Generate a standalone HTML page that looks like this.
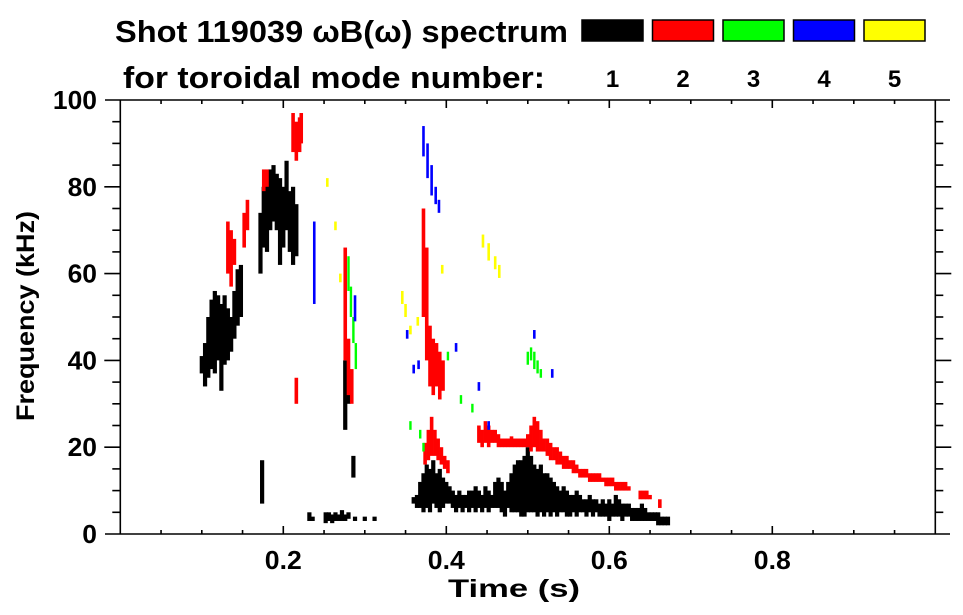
<!DOCTYPE html>
<html><head><meta charset="utf-8"><style>
body{margin:0;background:#fff;}
svg{display:block;font-family:"Liberation Sans",sans-serif;font-weight:bold;}
</style></head><body>
<svg id="chart" width="963" height="615" viewBox="0 0 963 615">
<g>
<text x="115" y="42" font-size="31" textLength="453" lengthAdjust="spacingAndGlyphs">Shot 119039 ωB(ω) spectrum</text>
<text x="123" y="88" font-size="31" textLength="422" lengthAdjust="spacingAndGlyphs">for toroidal mode number:</text>
</g>
<g id="legend"></g>
<g id="plot"></g>
<g id="axes"></g>
<text x="514" y="597" font-size="25" text-anchor="middle" textLength="132" lengthAdjust="spacingAndGlyphs">Time (s)</text>
<text transform="translate(34,316) rotate(-90)" font-size="25" text-anchor="middle" textLength="210" lengthAdjust="spacingAndGlyphs">Frequency (kHz)</text>
</svg>
<script>
const modeLabels = ["1","2","3","4","5"];
const modeColors = ["#000000","#ff0000","#00ff00","#0000ff","#ffff00"];
const xTicks = [0.2,0.4,0.6,0.8];
const yTicks = [0,20,40,60,80,100];

// mode 1 (black): time (s), low freq, high freq (kHz)
const m1T = [.100,.104,.108,.112,.116,.120,.124,.128,.132,.136,.140,.144,.148,
 .172,.176,.180,.184,.188,.192,.196,.200,.204,.208,.212,.216,.174,
 .232,.236,.252,.256,.260,.264,.268,.272,.276,.280,.288,.300,.312,
 .276,.280,.286,
 .360,.364,.368,.372,.376,.380,.384,.388,.392,.396,.400,.404,.408,.412,.416,.420,.424,.428,.432,.436,.440,.444,.448,.452,.456,.460,.464,.468,.472,.476,.480,.484,.488,.492,.496,.500,.504,.508,.512,.516,.520,.524,.528,.532,.536,.540,.544,.548,.552,.556,.560,.564,.568,.572,.576,.580,.584,.588,.592,.596,.600,.604,.608,.612,.616,.620,.624,.628,.632,.636,.640,.644,.648,.652,.656,.660,.664,.668,.672];
const m1Lo = [37,34,36,38,37,40,33,39,40,42,45,48,50,
 60,66,65,70,72,70,62,66,70,65,62,64,7,
 3,3,2.5,3,2.5,3,3,3,3,3.5,3,3,3,
 24,30,13,
 7,6,6,5,6,5,7,6,5,6,7,7,6,5,6,5,6,5,6,5,6,5,6,5,6,6,6,5,4,6,5,5,5,4,4,5,5,5,4,5,4,5,4,5,4,5,5,4,4,5,4,5,5,4,5,4,5,4,4,4,3,4,4,4,3,4,4,3,3,3,3,3,3,3,3,2,2,2,2];
const m1Hi = [41,44,50,54,56,55,53,55,52,50,56,61,62,
 74,80,82,84,85,83,82,80,86,79,80,76,17,
 5,4,5,5,4.5,5,4.5,5.5,4.5,5,4,4,4,
 40,37,18,
 8.5,9,12,14,16,15,17,14,15,13,12,11,10,9,10,9,9,10,10,11,10,9,11,10,9,12,13,12,10,12,14,16,17,17,18,20,18,16,15,16,14,14,13,12,11,10,11,10,9,9,10,9,8,8,9,8,8,7,8,7,8,7,9,8,7,7,7,6,6,6,7,6,5,5,5,5,4,4,4];

// mode 2 (red)
const m2T = [.132,.136,.140,.152,.156,.176,.180,.212,.216,.220,.222,.216,
 .276,.280,.284,
 .372,.376,.380,.384,.388,.392,.396,
 .374,.378,.382,.386,.390,.394,.398,.402,
 .440,.444,.448,.452,.456,.460,.464,.468,.472,.476,.480,.484,.488,.492,.496,.500,.504,.508,.512,.516,.520,.524,.528,.532,.536,.540,.544,.548,.552,.556,.560,.564,.568,.572,.576,.580,.584,.588,.592,.596,.600,.604,.608,.612,.616,.620,.624,.638,.642,.646,.650,.662];
const m2Lo = [60,57,62,66,70,79,80,88,86,88,90,30,
 40,32,30,
 50,40,34,32,34,31,33,
 16,17,18,18,17,16,15,14,
 21,20,21,20,21,21,20,20,20,20,20,20,20,20,20,20,19,20,19,19,19,18,17,17,16,16,15,15,15,14,14,13,13,13,12,12,12,12,12,11,11,11,10,10,10,10,10,8,8,8,8,6];
const m2Hi = [72,70,68,74,77,84,84,97,95,96,97,36,
 66,45,38,
 75,66,48,45,44,42,40,
 21,24,27,24,22,20,18,17,
 25,24,26,25,24,24,23,22,22,22,22.5,22,22,22,22,23,25,27,26,24,22,22,21,20,20,19,18,18,17,17,16,15,15,15,14,14,14,14,13,13,13,13,12,12,12,12,11,10,10,10,9,8];

// mode 3 (green)
const m3T = [.280,.283,.286,.289,.356,.368,.402,.418,.432,.500,.504,.508,.512,.516,.372];
const m3Lo = [56,50,44,38,24,22,40,30,28,39,40,38,37,36,19];
const m3Hi = [64,57,50,44,26,24,42,32,30,42,43,42,40,38,21];

// mode 4 (blue)
const m4T = [.238,.288,.372,.377,.382,.387,.391,.352,.360,.366,.412,.440,.452,.508,.530];
const m4Lo = [53,49,87,82,78,76,74,45,37,38,42,33,24,45,36];
const m4Hi = [72,55,94,90,85,80,77,47,39,40,44,35,26,47,38];

// mode 5 (yellow)
const m5T = [.445,.452,.460,.465,.346,.350,.356,.254,.264,.270,.395,.365];
const m5Lo = [66,63,61,59,53,50,46,80,70,58,60,48];
const m5Hi = [69,67,64,62,56,53,48,82,72,60,62,50];

const NS = "http://www.w3.org/2000/svg";
const X0 = 120.3, X1 = 935.3, Y0 = 534, Y1 = 100;
function xs(t){ return X0 + (t - 0) / (1.0 - 0) * (X1 - X0); }
function ys(f){ return Y0 - (f - 0) / (100 - 0) * (Y0 - Y1); }
function mk(tag, attrs, parent){ const e = document.createElementNS(NS, tag); for (const k in attrs) e.setAttribute(k, attrs[k]); parent.appendChild(e); return e; }

const legend = document.getElementById('legend');
for (let i = 0; i < modeLabels.length; i++) {
  const bx = 582 + i * 70.5;
  const r = mk('rect', {x: bx, y: 20, width: 61, height: 21, fill: modeColors[i], stroke: '#000', 'stroke-width': 1.5}, legend);
  
  
  const t = mk('text', {x: bx + 30.5, y: 87, 'font-size': 24, 'text-anchor': 'middle'}, legend);
  t.textContent = modeLabels[i];
  
  
}

const plot = document.getElementById('plot');
const series = [[m1T,m1Lo,m1Hi],[m2T,m2Lo,m2Hi],[m3T,m3Lo,m3Hi],[m4T,m4Lo,m4Hi],[m5T,m5Lo,m5Hi]];
const widths = [4.2, 3.6, 2.4, 2.6, 2.6];
series.forEach((s, si) => {
  const g = mk('g', {}, plot);
  
  
  for (let i = 0; i < s[0].length; i++) {
    const x = xs(s[0][i]), y1 = ys(s[2][i]), y2 = ys(s[1][i]);
    const r = mk('rect', {x: x - widths[si]/2, y: y1, width: widths[si], height: Math.max(1, y2 - y1), fill: modeColors[si]}, g);
    
    
  }
});

const axes = document.getElementById('axes');
const st = {stroke: '#000', 'stroke-width': 1.6, fill: 'none'};
mk('line', Object.assign({x1: 105, y1: Y0, x2: 950, y2: Y0}, st), axes);
mk('line', Object.assign({x1: 105, y1: Y1, x2: 950, y2: Y1}, st), axes);
mk('line', Object.assign({x1: X0, y1: Y1, x2: X0, y2: Y0}, st), axes);
mk('line', Object.assign({x1: X1, y1: Y1, x2: X1, y2: Y0}, st), axes);
for (let t = 0.05; t < 1.0; t += 0.05) {
  const x = xs(t), major = Math.abs(t*10 - Math.round(t*10)) < 1e-6 && Math.round(t*10) % 2 === 0;
  const L = major ? 8 : 4;
  mk('line', Object.assign({x1: x, y1: Y0, x2: x, y2: Y0 - L}, st), axes);
  mk('line', Object.assign({x1: x, y1: Y1, x2: x, y2: Y1 + L}, st), axes);
}
for (let f = 5; f < 100; f += 5) {
  const y = ys(f), major = f % 20 === 0;
  const L = major ? 16 : 8;
  mk('line', Object.assign({x1: X0, y1: y, x2: X0 - L, y2: y}, st), axes);
  mk('line', Object.assign({x1: X1, y1: y, x2: X1 + L, y2: y}, st), axes);
}
xTicks.forEach(t => {
  const e = mk('text', {x: xs(t), y: 569, 'font-size': 26, 'text-anchor': 'middle', textLength: 37, lengthAdjust: 'spacingAndGlyphs'}, axes);
  e.textContent = t.toFixed(1);
  
  
});
yTicks.forEach(f => {
  const s = String(f);
  const e = mk('text', {x: 97, y: ys(f) + 9, 'font-size': 26, 'text-anchor': 'end', textLength: s.length * 14.7, lengthAdjust: 'spacingAndGlyphs'}, axes);
  e.textContent = s;
  
  
});
</script>
</body></html>
